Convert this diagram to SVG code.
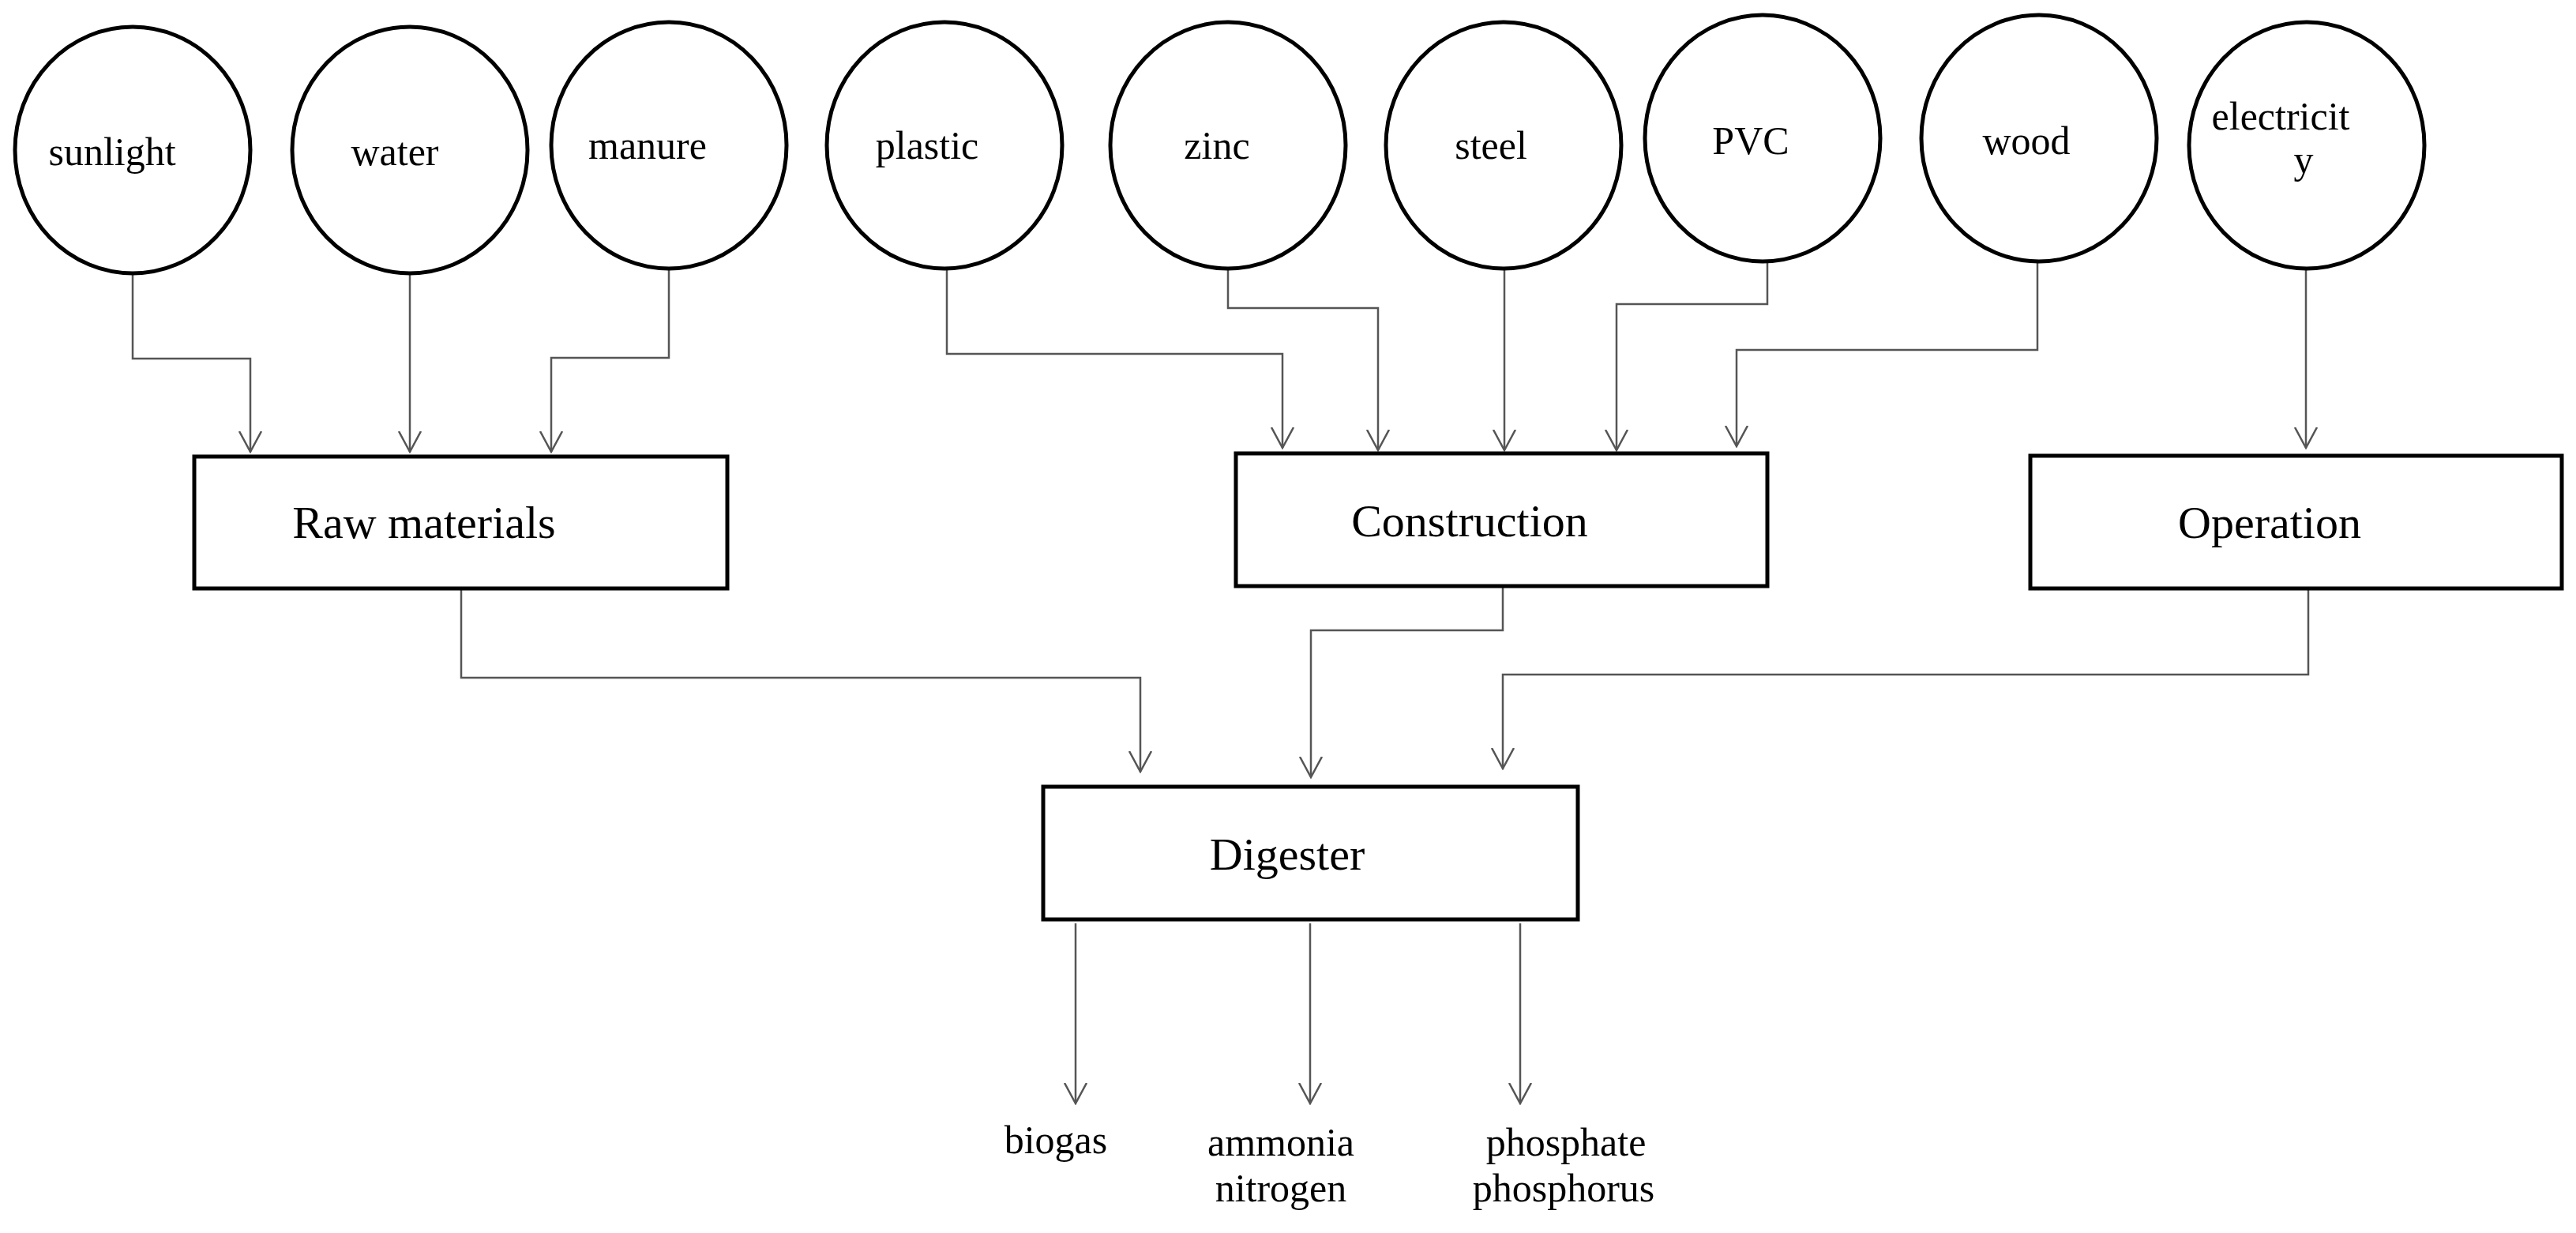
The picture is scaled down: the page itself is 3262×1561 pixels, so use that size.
<svg xmlns="http://www.w3.org/2000/svg" width="3262" height="1561" viewBox="0 0 3262 1561">
<style>
.n{fill:#fff;stroke:#000;stroke-width:5}
.t{font-family:"Liberation Serif",serif;font-size:50px;fill:#000;text-anchor:middle}
.b{font-size:58px}
.c{fill:none;stroke:#555;stroke-width:2.5;marker-end:url(#a)}
</style>
<defs>
<marker id="a" viewBox="0 0 28 30" refX="26" refY="15" markerWidth="28" markerHeight="30" markerUnits="userSpaceOnUse" orient="auto">
<path d="M0,1 L26,15 L0,29" fill="none" stroke="#555" stroke-width="2.5"/>
</marker>
</defs>
<rect width="3262" height="1561" fill="#fff"/>
<g id="connectors">
<path class="c" d="M168,346 V454 H317 V572"/>
<path class="c" d="M519,346 V572"/>
<path class="c" d="M847,340 V453 H698 V572"/>
<path class="c" d="M1199,340 V448 H1624 V567"/>
<path class="c" d="M1555,340 V390 H1745 V570"/>
<path class="c" d="M1905,340 V570"/>
<path class="c" d="M2238,331 V385 H2047 V570"/>
<path class="c" d="M2580,331 V443 H2199 V565"/>
<path class="c" d="M2920,340 V567"/>
<path class="c" d="M584,745 V858 H1444 V977"/>
<path class="c" d="M1903,742 V798 H1660 V984"/>
<path class="c" d="M2923,745 V854 H1903 V973"/>
<path class="c" d="M1362,1169 V1397"/>
<path class="c" d="M1659,1169 V1397"/>
<path class="c" d="M1925,1169 V1397"/>
</g>
<g id="sunlight"><ellipse class="n" cx="168" cy="190" rx="149" ry="156"/><text class="t" x="142" y="209">sunlight</text></g>
<g id="water"><ellipse class="n" cx="519" cy="190" rx="149" ry="156"/><text class="t" x="500" y="209">water</text></g>
<g id="manure"><ellipse class="n" cx="847" cy="184" rx="149" ry="156"/><text class="t" x="820" y="201">manure</text></g>
<g id="plastic"><ellipse class="n" cx="1196" cy="184" rx="149" ry="156"/><text class="t" x="1174" y="201">plastic</text></g>
<g id="zinc"><ellipse class="n" cx="1555" cy="184" rx="149" ry="156"/><text class="t" x="1541" y="201">zinc</text></g>
<g id="steel"><ellipse class="n" cx="1904" cy="184" rx="149" ry="156"/><text class="t" x="1888" y="201">steel</text></g>
<g id="pvc"><ellipse class="n" cx="2232" cy="175" rx="149" ry="156"/><text class="t" x="2217" y="195">PVC</text></g>
<g id="wood"><ellipse class="n" cx="2582" cy="175" rx="149" ry="156"/><text class="t" x="2566" y="195">wood</text></g>
<g id="electricity"><ellipse class="n" cx="2921" cy="184" rx="149" ry="156"/><text class="t" x="2888" y="164">electricit</text><text class="t" x="2917" y="219">y</text></g>
<g id="raw"><rect class="n" x="246" y="578" width="675" height="167"/><text class="t b" x="537" y="681">Raw materials</text></g>
<g id="construction"><rect class="n" x="1565" y="574" width="673" height="168"/><text class="t b" x="1861" y="679">Construction</text></g>
<g id="operation"><rect class="n" x="2571" y="577" width="673" height="168"/><text class="t b" x="2874" y="681">Operation</text></g>
<g id="digester"><rect class="n" x="1321" y="996" width="677" height="168"/><text class="t b" x="1630" y="1101">Digester</text></g>
<g id="outputs">
<text class="t" x="1337" y="1460">biogas</text>
<text class="t" x="1622" y="1463">ammonia</text>
<text class="t" x="1622" y="1521">nitrogen</text>
<text class="t" x="1983" y="1463">phosphate</text>
<text class="t" x="1980" y="1521">phosphorus</text>
</g>
</svg>
